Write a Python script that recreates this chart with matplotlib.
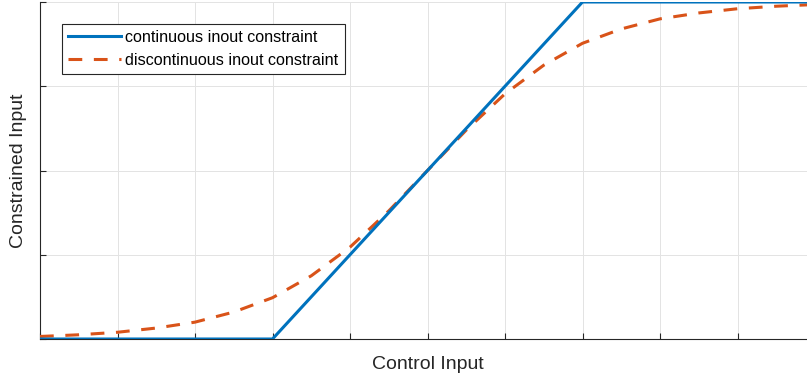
import numpy as np
import matplotlib.pyplot as plt

plt.rcParams['font.family'] = ['Liberation Sans', 'DejaVu Sans']

# continuous constraint (saturation)
x_cont = [0, 3, 7, 10]
y_cont = [0, 0, 4, 4]

# discontinuous constraint, every 0.5
x_disc = [0, 0.5, 1, 1.5, 2, 2.5, 3, 3.5, 4, 4.5, 5,
          5.5, 6, 6.5, 7, 7.5, 8, 8.5, 9, 9.5, 10]
y_disc = [0.03, 0.05, 0.08, 0.13, 0.20, 0.32, 0.49, 0.75, 1.09, 1.52, 2.0,
          2.48, 2.91, 3.25, 3.51, 3.68, 3.80, 3.87, 3.92, 3.95, 3.97]

W, H = 807, 378
fig = plt.figure(figsize=(W / 100, H / 100), dpi=100)
ax = fig.add_axes([40 / W, 1 - 339 / H, 775 / W, 337 / H])

ax.plot(x_disc, y_disc, color='#D95319', lw=2.2, dashes=(4.5, 3.8),
        label='discontinuous inout constraint', zorder=3)
ax.plot(x_cont, y_cont, color='#0072BD', lw=2.2,
        label='continuous inout constraint', zorder=4)

ax.set_xlim(0, 10)
ax.set_ylim(0, 4)
ax.set_xticks(np.arange(0, 11, 1))
ax.set_yticks(np.arange(0, 5, 1))
ax.set_xticklabels([])
ax.set_yticklabels([])
ax.tick_params(direction='in', length=4, width=0.8, color='#262626')
ax.grid(True, color='#e3e3e3', lw=0.7)
ax.set_axisbelow(True)
for s in ['top', 'right']:
    ax.spines[s].set_visible(False)
for s in ['left', 'bottom']:
    ax.spines[s].set_color('#262626')
    ax.spines[s].set_linewidth(0.8)

ax.set_xlabel('Control Input', fontsize=14, color='#262626', labelpad=9)
ax.set_ylabel('Constrained Input', fontsize=14, color='#262626', labelpad=6)

h, l = ax.get_legend_handles_labels()
leg = ax.legend(h[::-1], l[::-1], loc='upper left',
                bbox_to_anchor=(62 / W, 1 - 24 / H), bbox_transform=fig.transFigure,
                fontsize=11.6, fancybox=False, edgecolor='#262626', framealpha=1,
                handlelength=3.3, handletextpad=0.25, borderpad=0.38,
                labelspacing=0.48, borderaxespad=0)
leg.get_frame().set_linewidth(0.8)

fig.savefig('out.png', dpi=100)
